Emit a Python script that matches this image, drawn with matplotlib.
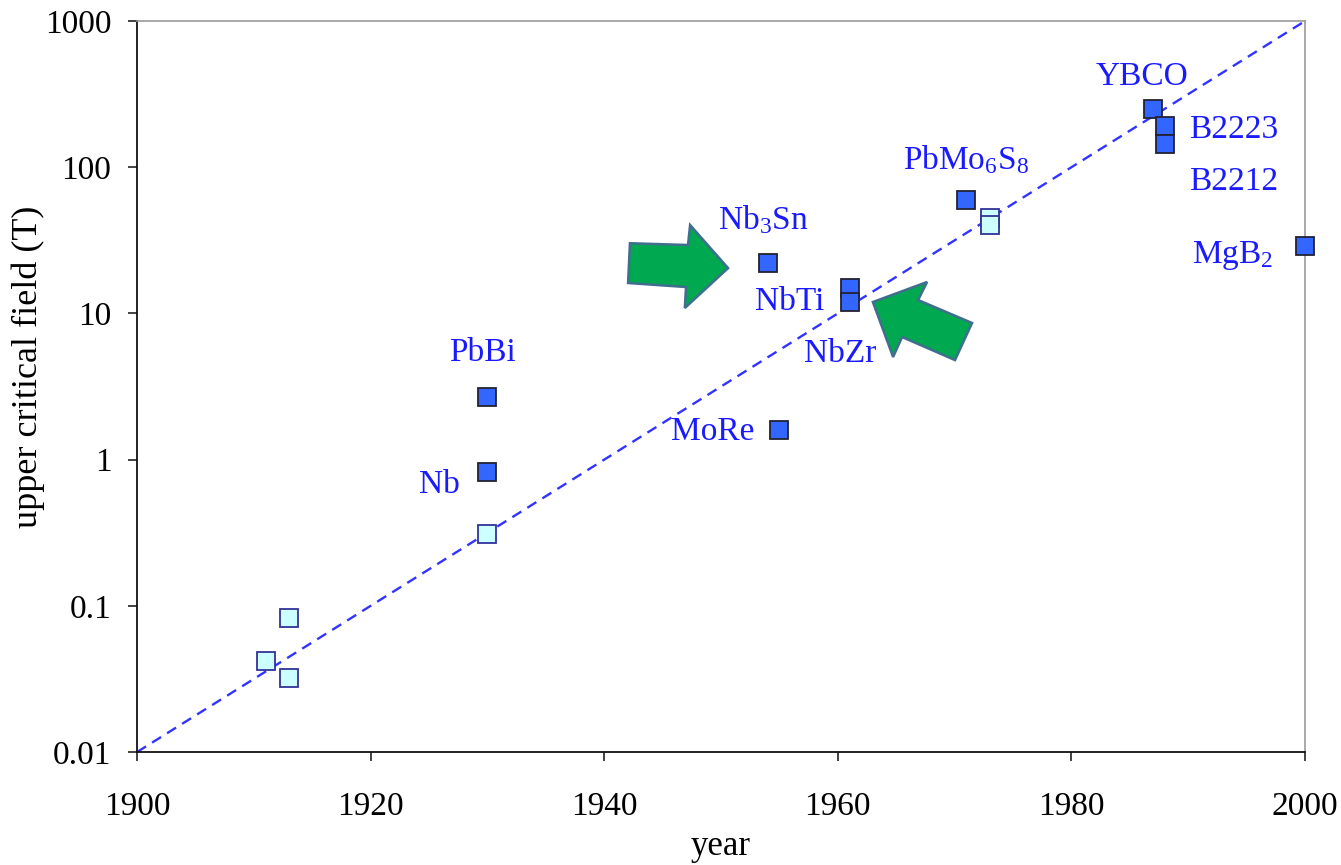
import matplotlib
matplotlib.use("Agg")
import matplotlib.pyplot as plt
from matplotlib.patches import Polygon

plt.rcParams["font.family"] = ["Liberation Serif", "DejaVu Serif"]
plt.rcParams["mathtext.fontset"] = "custom"
plt.rcParams["mathtext.rm"] = "Liberation Serif"
plt.rcParams["mathtext.it"] = "Liberation Serif"

# Upper critical field of superconductors by year of discovery
years_alloy = [1930, 1930, 1955, 1954, 1961, 1961, 1971, 1987, 1988, 1988, 2000]
hc2_alloy = [2.7, 0.82, 1.6, 22, 15, 12, 60, 250, 190, 145, 29]

years_other = [1911, 1913, 1913, 1930, 1973, 1973]
hc2_other = [0.042, 0.082, 0.032, 0.31, 45, 40]

trend_years = [1900, 2000]
trend_hc2 = [0.01, 1000]

# Material names with their label anchor (year, field) and alignment
label_text = ["YBCO", "B2223", "B2212", r"MgB$_2$", r"PbMo$_6$S$_8$", r"Nb$_3$Sn",
              "NbTi", "NbZr", "PbBi", "MoRe", "Nb"]
label_year = [1986.0, 1990.1, 1990.1, 1990.3, 1965.6, 1949.7,
              1952.9, 1957.1, 1926.7, 1945.7, 1924.1]
label_hc2 = [414, 180, 80, 25, 112, 44, 12.0, 5.3, 5.35, 1.55, 0.67]
label_ha = ["center", "left", "left", "left", "left", "left",
            "left", "left", "left", "left", "left"]

xticks = [1900, 1920, 1940, 1960, 1980, 2000]
yticks = [0.01, 0.1, 1, 10, 100, 1000]
ytick_labels = ["0.01", "0.1", "1", "10", "100", "1000"]

fig = plt.figure(figsize=(13.41, 8.65), dpi=100)
ax = fig.add_axes([0.1022, 0.1306, 0.8710, 0.8451])

ax.set_yscale("log")
ax.set_xlim(1900, 2000)
ax.set_ylim(0.01, 1000)

ax.plot(trend_years, trend_hc2, color="#3333ff", lw=1.7, dashes=(4.5, 3.0), zorder=2)

ax.plot(years_other, hc2_other, linestyle="none", marker="s", markersize=12.7,
        markerfacecolor="#ccffff", markeredgecolor="#333399", markeredgewidth=1.3,
        zorder=3, clip_on=False)
ax.plot(years_alloy, hc2_alloy, linestyle="none", marker="s", markersize=12.7,
        markerfacecolor="#3366ff", markeredgecolor="#222233", markeredgewidth=1.3,
        zorder=3, clip_on=False)

for txt, x, y, ha in zip(label_text, label_year, label_hc2, label_ha):
    ax.text(x, y, txt, ha=ha, va="center", fontsize=24, color="#1a1aff", zorder=4)

# Green block arrows, in axes-fraction coordinates
arrow_right = [(0.422, 0.696), (0.4717, 0.6936), (0.4735, 0.7209), (0.506, 0.662),
               (0.469, 0.6074), (0.470, 0.6361), (0.4204, 0.6416)]
arrow_upleft = [(0.630, 0.6156), (0.6764, 0.643), (0.6687, 0.6183), (0.7149, 0.5869),
                (0.7003, 0.5362), (0.655, 0.5677), (0.6473, 0.5404)]
for pts in (arrow_right, arrow_upleft):
    ax.add_patch(Polygon(pts, closed=True, transform=ax.transAxes,
                         facecolor="#00a84f", edgecolor="#3f6e8e", lw=1.8, zorder=5))

ax.set_xticks(xticks)
ax.set_xticklabels([str(v) for v in xticks])
ax.set_yticks(yticks)
ax.set_yticklabels(ytick_labels)
ax.minorticks_off()
ax.tick_params(axis="both", which="major", direction="out", length=6.5, width=1.2,
               labelsize=24, color="#222222")
ax.tick_params(axis="y", pad=12)
ax.tick_params(axis="x", pad=22)

for side in ("left", "bottom"):
    ax.spines[side].set_color("#111111")
    ax.spines[side].set_linewidth(1.3)
for side in ("top", "right"):
    ax.spines[side].set_color("#999999")
    ax.spines[side].set_linewidth(1.2)

ax.set_xlabel("year", fontsize=25, labelpad=6)
ax.set_ylabel("upper critical field (T)", fontsize=26)
ax.yaxis.set_label_coords(-0.079, 0.527)

fig.savefig("out.png", dpi=100, facecolor="white")
